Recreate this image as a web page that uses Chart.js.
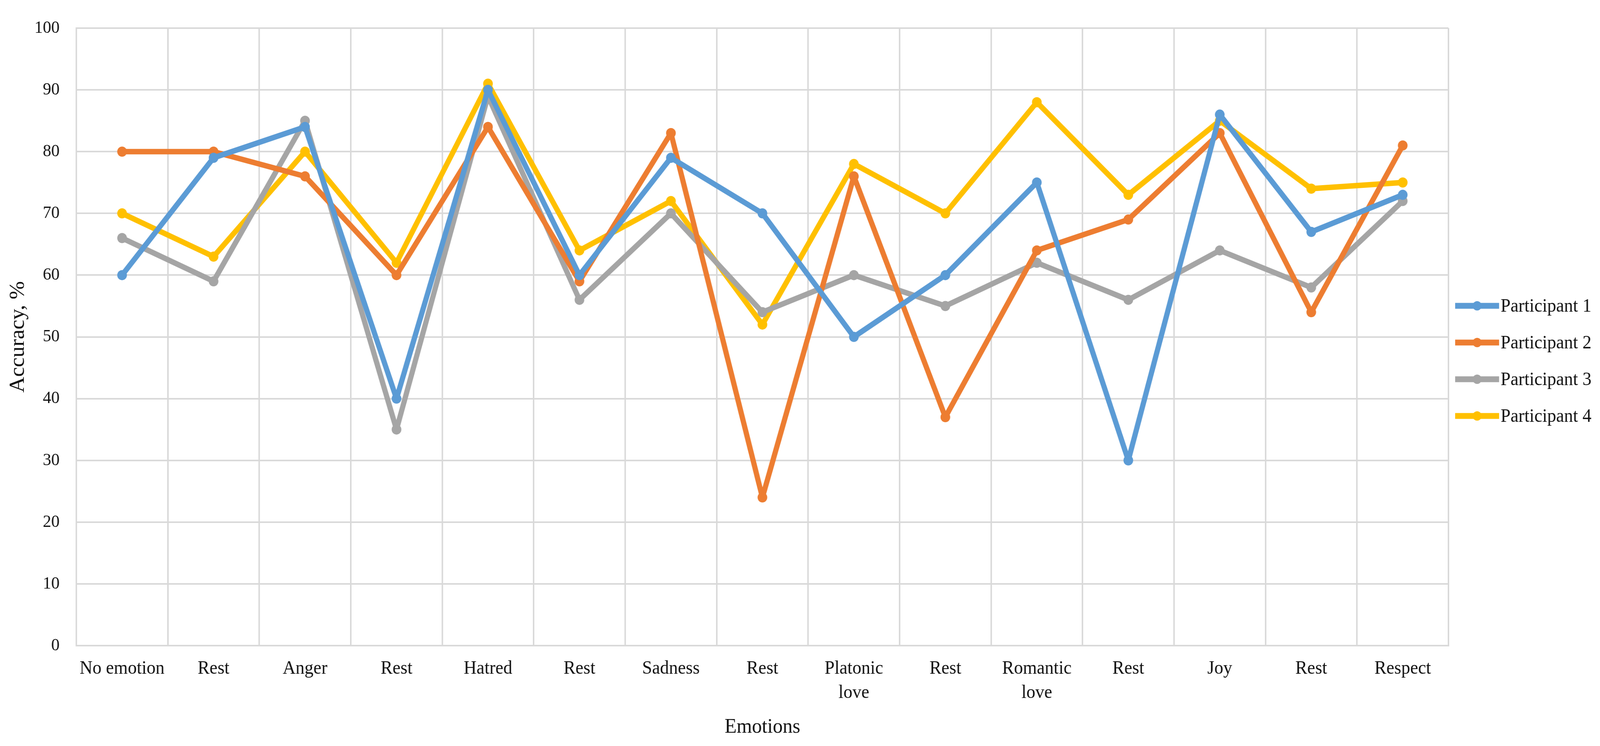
<!DOCTYPE html>
<html>
<head>
<meta charset="utf-8">
<script src="https://cdn.jsdelivr.net/npm/chart.js@4"></script>
<style>
html,body{margin:0;padding:0;background:#fff;overflow:hidden;}
canvas{display:block;width:100vw !important;height:100vh !important;}
</style>
</head>
<body>
<canvas id="c" width="4297" height="1910"></canvas>
<script>
const categories = [
  'No emotion', 'Rest', 'Anger', 'Rest', 'Hatred', 'Rest', 'Sadness', 'Rest',
  ['Platonic', 'love'], 'Rest', ['Romantic', 'love'], 'Rest', 'Joy', 'Rest', 'Respect'
];
const participant1 = [60, 79, 84, 40, 90, 60, 79, 70, 50, 60, 75, 30, 86, 67, 73];
const participant2 = [80, 80, 76, 60, 84, 59, 83, 24, 76, 37, 64, 69, 83, 54, 81];
const participant3 = [66, 59, 85, 35, 89, 56, 70, 54, 60, 55, 62, 56, 64, 58, 72];
const participant4 = [70, 63, 80, 62, 91, 64, 72, 52, 78, 70, 88, 73, 85, 74, 75];
const seriesNames = ['Participant 1', 'Participant 2', 'Participant 3', 'Participant 4'];
const seriesColors = ['#5B9BD5', '#ED7D31', '#A5A5A5', '#FFC000'];
const yTicks = [0, 10, 20, 30, 40, 50, 60, 70, 80, 90, 100];

const FONT = '"Liberation Serif", "Times New Roman", serif';
const GRID = '#d9d9d9';
const TEXT = '#111111';

const allSeries = [participant1, participant2, participant3, participant4];
const datasets = allSeries.map((d, i) => ({
  label: seriesNames[i],
  data: d,
  borderColor: seriesColors[i],
  backgroundColor: seriesColors[i],
  pointBackgroundColor: seriesColors[i],
  pointBorderColor: seriesColors[i],
  borderWidth: 14,
  pointRadius: 13,
  pointBorderWidth: 0,
  borderJoinStyle: 'round',
  tension: 0,
  fill: false
}));

// Legend drawn at the right, Excel style (line + marker + label)
const sideLegend = {
  id: 'sideLegend',
  afterDraw(chart) {
    const ctx = chart.ctx;
    const area = chart.chartArea;
    const x0 = area.right + 18;
    const lineLen = 118;
    const step = 94;
    const midY = 924;
    const n = seriesNames.length;
    ctx.save();
    ctx.font = '48px ' + FONT;
    ctx.textBaseline = 'middle';
    ctx.textAlign = 'left';
    seriesNames.forEach((name, i) => {
      const y = midY + (i - (n - 1) / 2) * step;
      ctx.strokeStyle = seriesColors[i];
      ctx.lineWidth = 15;
      ctx.lineCap = 'butt';
      ctx.beginPath();
      ctx.moveTo(x0, y);
      ctx.lineTo(x0 + lineLen, y);
      ctx.stroke();
      ctx.fillStyle = seriesColors[i];
      ctx.beginPath();
      ctx.arc(x0 + lineLen / 2, y, 12, 0, Math.PI * 2);
      ctx.fill();
      ctx.fillStyle = TEXT;
      ctx.fillText(name, x0 + lineLen + 4, y + 2);
    });
    ctx.restore();
  }
};

new Chart(document.getElementById('c'), {
  type: 'line',
  data: { labels: categories, datasets },
  plugins: [sideLegend],
  options: {
    responsive: false,
    animation: false,
    devicePixelRatio: 1,
    layout: { padding: { left: 0, right: 407, top: 43, bottom: 0 } },
    plugins: {
      tooltip: { enabled: false },
      legend: { display: false }
    },
    scales: {
      x: {
        type: 'category',
        offset: true,
        afterFit(axis) { axis.height = 257; },
        grid: { offset: true, color: GRID, lineWidth: 4, drawTicks: false },
        border: { color: GRID, width: 4 },
        ticks: {
          font: { family: FONT, size: 48, lineHeight: 1.3 },
          color: TEXT,
          padding: 28,
          maxRotation: 0,
          autoSkip: false
        },
        title: {
          display: true,
          text: 'Emotions',
          font: { family: FONT, size: 53 },
          color: TEXT,
          padding: { top: 0, bottom: 16 }
        }
      },
      y: {
        min: 0,
        max: 100,
        afterFit(axis) { axis.width = 205; },
        afterBuildTicks(axis) { axis.ticks = yTicks.map(v => ({ value: v })); },
        grid: { color: GRID, lineWidth: 4, drawTicks: false },
        border: { color: GRID, width: 4 },
        ticks: {
          font: { family: FONT, size: 45 },
          color: TEXT,
          padding: 45
        },
        title: {
          display: true,
          text: 'Accuracy, %',
          font: { family: FONT, size: 56 },
          color: TEXT,
          padding: { top: 16, bottom: 0 }
        }
      }
    }
  }
});
</script>
</body>
</html>
